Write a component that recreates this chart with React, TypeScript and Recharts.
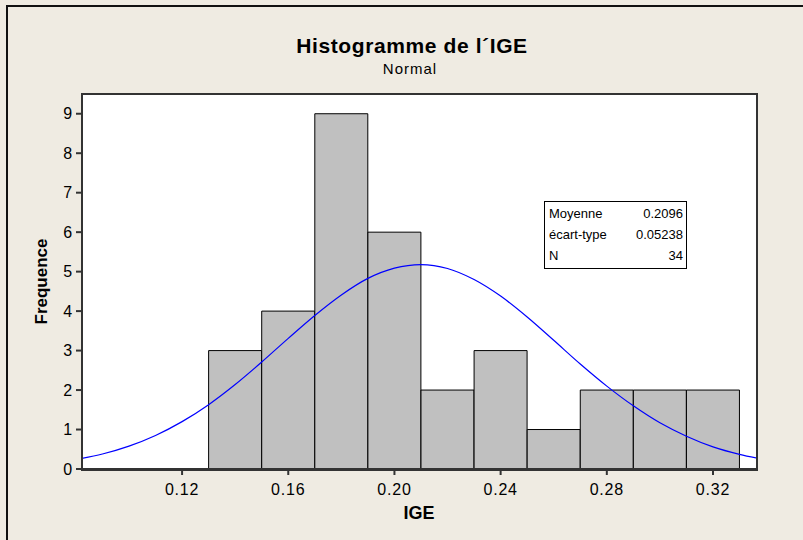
import React from "react";
import { ComposedChart, Bar, Line, XAxis, YAxis, CartesianGrid } from "recharts";

const binMid = [0.14, 0.16, 0.18, 0.2, 0.22, 0.24, 0.26, 0.28, 0.3, 0.32];
const counts = [3, 4, 9, 6, 2, 3, 1, 2, 2, 2];

// fitted normal curve
const curveX = [0.08, 0.09, 0.1, 0.11, 0.12, 0.13, 0.14, 0.15, 0.16, 0.17, 0.18, 0.19, 0.2, 0.21,
  0.22, 0.23, 0.24, 0.25, 0.26, 0.27, 0.28, 0.29, 0.3, 0.31, 0.32, 0.33, 0.34];
const curveY = [0.24, 0.38, 0.58, 0.85, 1.2, 1.63, 2.14, 2.71, 3.31, 3.89, 4.41, 4.83, 5.09, 5.18,
  5.08, 4.8, 4.38, 3.85, 3.26, 2.66, 2.1, 1.6, 1.17, 0.83, 0.56, 0.37, 0.23];

const xTicks = [0.12, 0.16, 0.2, 0.24, 0.28, 0.32];
const yTicks = [0, 1, 2, 3, 4, 5, 6, 7, 8, 9];
const xDomain = [0.0823, 0.3362];

const stats = [
  ["Moyenne", "0.2096"],
  ["écart-type", "0.05238"],
  ["N", "34"],
];

const FONT = '"Liberation Sans", Arial, sans-serif';
const BG = "#efebe2";

export default function App() {
  const bars = binMid.map((x, i) => ({ x, count: counts[i] }));
  const curve = curveX.map((x, i) => ({ x, y: curveY[i] }));
  const tick = { fontSize: 16, fill: "#000", fontFamily: FONT, letterSpacing: 0.8 };

  return (
    <div style={{ position: "absolute", left: 0, top: 0, width: 803, height: 540, background: BG, overflow: "hidden", fontFamily: FONT }}>
      <div style={{ position: "absolute", left: 6, top: 5, width: 820, height: 560, borderLeft: "2px solid #111", borderTop: "2px solid #111" }} />
      <div style={{ position: "absolute", left: 212, top: 34, width: 400, textAlign: "center", fontSize: 21, fontWeight: "bold", lineHeight: "24px", letterSpacing: 0.6 }}>
        Histogramme de l´IGE
      </div>
      <div style={{ position: "absolute", left: 310, top: 60, width: 200, textAlign: "center", fontSize: 15, lineHeight: "17px", letterSpacing: 1 }}>
        Normal
      </div>

      <ComposedChart width={803} height={540} data={bars} barCategoryGap={0}
        margin={{ top: 94, right: 47, bottom: 0, left: 0 }}>
        <CartesianGrid fill="#fff" horizontal={false} vertical={false} />
        <XAxis dataKey="x" type="number" domain={xDomain} allowDataOverflow ticks={xTicks}
          tickFormatter={(v: number) => v.toFixed(2)} height={71} tickSize={6} tickMargin={9}
          tick={tick} stroke="#333" strokeWidth={2}
          label={{ value: "IGE", position: "insideBottom", offset: 21, fontSize: 18, fontWeight: "bold", fill: "#000", fontFamily: FONT }} />
        <XAxis xAxisId="curve" dataKey="x" type="number" domain={xDomain} allowDataOverflow hide />
        <YAxis type="number" domain={[0, 9.5]} allowDataOverflow ticks={yTicks} width={82}
          tickSize={6} tickMargin={3} tick={tick} stroke="#333" strokeWidth={2}
          label={{ value: "Frequence", angle: -90, position: "insideLeft", offset: 41, fontSize: 17, fontWeight: "bold", fill: "#000", fontFamily: FONT, style: { textAnchor: "middle" } }} />
        <Bar dataKey="count" fill="#c0c0c0" stroke="#000" strokeWidth={1} isAnimationActive={false} />
        <Line xAxisId="curve" data={curve} dataKey="y" type="monotone" stroke="#0000ff" strokeWidth={1.2}
          dot={false} isAnimationActive={false} />
      </ComposedChart>

      <div style={{ position: "absolute", left: 81, top: 93, width: 673, height: 374, border: "2px solid #333", pointerEvents: "none" }} />

      <div style={{ position: "absolute", left: 544, top: 201, width: 141, height: 64, border: "1px solid #000", background: "#fff", fontSize: 13, padding: "1px 0" }}>
        {stats.map(([k, v]) => (
          <div key={k} style={{ display: "flex", justifyContent: "space-between", height: 21, lineHeight: "21px", padding: "0 3px 0 4px" }}>
            <span>{k}</span>
            <span>{v}</span>
          </div>
        ))}
      </div>
    </div>
  );
}
